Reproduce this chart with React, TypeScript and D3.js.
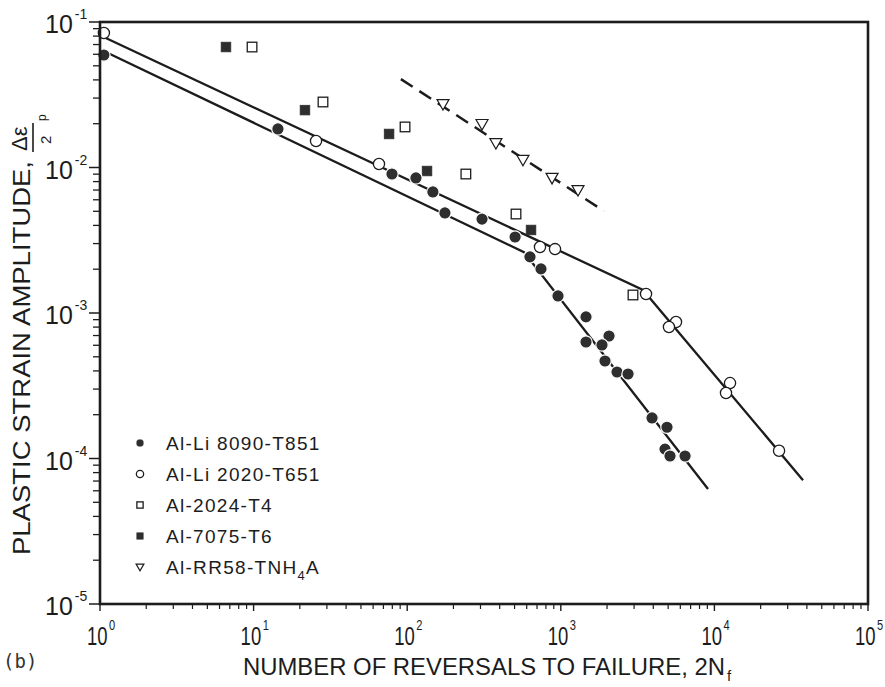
import React from "react";
import * as d3 from "d3";

// reversals 2Nf vs plastic strain amplitude
const alLi8090: [number, number][] = [
  [1.06, 0.0593], [14.4, 0.0184], [79.6, 0.00902], [114, 0.00848], [147, 0.00679],
  [176, 0.00487], [307, 0.00442], [504, 0.00333], [630, 0.00243], [743, 0.00201],
  [959, 0.00131], [1459, 0.00094], [1459, 0.000632], [2060, 0.000695], [1854, 0.000603],
  [1940, 0.000468], [2323, 0.000393], [2740, 0.000381], [3926, 0.00019], [4913, 0.000164],
  [4768, 0.000116], [5140, 0.000104], [6440, 0.000104],
];
const alLi2020: [number, number][] = [
  [1.06, 0.084], [25.5, 0.0152], [65.5, 0.01057], [732, 0.00284], [917, 0.00275],
  [3588, 0.00135], [5623, 0.000867], [5060, 0.000801], [12640, 0.00033], [11900, 0.000282],
  [26360, 0.000113],
];
const al2024: [number, number][] = [
  [9.77, 0.0673], [28.3, 0.0282], [96.8, 0.019], [241, 0.00902], [511, 0.00479], [2951, 0.00133],
];
const al7075: [number, number][] = [
  [6.61, 0.0673], [21.6, 0.0248], [76.2, 0.017], [134.6, 0.00946], [640, 0.00372],
];
const alRR58: [number, number][] = [
  [171, 0.0273], [307, 0.0199], [378, 0.0147], [567, 0.0113], [877, 0.00848], [1294, 0.007],
];

// fitted lines (bilinear for the Al-Li alloys)
const fit8090: [number, number][] = [[1.09, 0.0622], [576, 0.00262], [9085, 6.17e-5]];
const fit2020: [number, number][] = [[1.09, 0.0777], [3428, 0.00144], [37750, 7.1e-5]];
const fitRR58: [number, number][] = [[91, 0.0405], [1910, 0.00502]];

const xTicks = [1, 10, 100, 1000, 10000, 100000];
const xTickExp = ["0", "1", "2", "3", "4", "5"];
const yTicks = [1e-1, 1e-2, 1e-3, 1e-4, 1e-5];
const yTickExp = ["-1", "-2", "-3", "-4", "-5"];
const legendLabels = ["Al-Li 8090-T851", "Al-Li 2020-T651", "Al-2024-T4", "Al-7075-T6", "Al-RR58-TNH"];

const W = 885;
const H = 687;
const m = { left: 100, right: 868, top: 22, bottom: 604 };
const ink = "#1c1c1c";
const sans = "'Liberation Sans', Arial, sans-serif";

function minors(lo: number, hi: number) {
  const out: number[] = [];
  for (let e = lo; e < hi; e++) for (let k = 2; k <= 9; k++) out.push(k * 10 ** e);
  return out;
}

type Kind = "fcircle" | "ocircle" | "osquare" | "fsquare" | "tri";

function Marker({ kind, cx, cy, s = 1 }: { kind: Kind; cx: number; cy: number; s?: number }) {
  if (kind === "fcircle")
    return <circle cx={cx} cy={cy} r={6.2 * s} fill="#2e2e2e" stroke="#fff" strokeWidth={1.2 * s} />;
  if (kind === "ocircle")
    return <circle cx={cx} cy={cy} r={5.6 * s} fill="#fff" stroke={ink} strokeWidth={1.3} />;
  if (kind === "osquare") {
    const h = 4.8 * s;
    return <rect x={cx - h} y={cy - h} width={2 * h} height={2 * h} fill="#fff" stroke={ink} strokeWidth={1.3} />;
  }
  if (kind === "fsquare") {
    const h = 4.8 * s;
    return <rect x={cx - h} y={cy - h} width={2 * h} height={2 * h} fill="#2e2e2e" stroke="#2e2e2e" strokeWidth={0.8} />;
  }
  const w = 6 * s;
  const d = `M${cx - w},${cy - 4.5 * s}L${cx + w},${cy - 4.5 * s}L${cx},${cy + 6 * s}Z`;
  return <path d={d} fill="#fff" stroke={ink} strokeWidth={1.2} />;
}

export default function App() {
  const x = d3.scaleLog().domain([1, 1e5]).range([m.left, m.right]);
  const y = d3.scaleLog().domain([1e-5, 1e-1]).range([m.bottom, m.top]);
  const line = d3
    .line<[number, number]>()
    .x((d) => x(d[0]))
    .y((d) => y(d[1]));

  const series: { data: [number, number][]; kind: Kind }[] = [
    { data: al2024, kind: "osquare" },
    { data: al7075, kind: "fsquare" },
    { data: alRR58, kind: "tri" },
    { data: alLi2020, kind: "ocircle" },
    { data: alLi8090, kind: "fcircle" },
  ];
  const legendKinds: Kind[] = ["fcircle", "ocircle", "osquare", "fsquare", "tri"];

  return (
    <svg
      width={W}
      height={H}
      viewBox={`0 0 ${W} ${H}`}
      style={{ position: "absolute", left: 0, top: 0, background: "#fff" }}
    >
      <rect width={W} height={H} fill="#fff" />

      {/* fit lines */}
      <path d={line(fit8090) || ""} fill="none" stroke={ink} strokeWidth={2.3} />
      <path d={line(fit2020) || ""} fill="none" stroke={ink} strokeWidth={2.3} />
      <path d={line(fitRR58) || ""} fill="none" stroke={ink} strokeWidth={2.5} strokeDasharray="14 8" />

      {/* data */}
      {series.map((s, i) => (
        <g key={i}>
          {s.data.map((d, j) => (
            <Marker key={j} kind={s.kind} cx={x(d[0])} cy={y(d[1])} />
          ))}
        </g>
      ))}

      {/* frame */}
      <rect
        x={m.left}
        y={m.top}
        width={m.right - m.left}
        height={m.bottom - m.top}
        fill="none"
        stroke={ink}
        strokeWidth={2.6}
      />

      {/* y ticks */}
      {minors(-5, -1).map((v, i) => (
        <line key={"ym" + i} x1={m.left - 7} x2={m.left} y1={y(v)} y2={y(v)} stroke={ink} strokeWidth={1.3} />
      ))}
      {yTicks.map((v, i) => (
        <g key={"y" + i}>
          <line x1={m.left - 11} x2={m.left} y1={y(v)} y2={y(v)} stroke={ink} strokeWidth={1.5} />
          <text x={45} y={y(v) + 11} fontFamily={sans} fontSize={25} fill={ink}>
            10
            <tspan fontSize={14} dx={2} dy={-14}>{yTickExp[i]}</tspan>
          </text>
        </g>
      ))}

      {/* x ticks */}
      {minors(0, 5).map((v, i) => (
        <line key={"xm" + i} x1={x(v)} x2={x(v)} y1={m.bottom} y2={m.bottom + 5} stroke={ink} strokeWidth={1.2} />
      ))}
      {xTicks.map((v, i) => (
        <g key={"x" + i}>
          <line x1={x(v)} x2={x(v)} y1={m.bottom} y2={m.bottom + 7} stroke={ink} strokeWidth={1.4} />
          <g transform={`translate(${x(v) - 13},645) scale(0.74,1)`}>
            <text x={0} y={0} fontFamily={sans} fontSize={25} fill={ink}>
              10
              <tspan fontSize={15} dx={2} dy={-15}>{xTickExp[i]}</tspan>
            </text>
          </g>
        </g>
      ))}

      {/* x title */}
      <text x={243} y={675} fontFamily={sans} fontSize={23} fill={ink} textLength={482} lengthAdjust="spacingAndGlyphs">
        NUMBER OF REVERSALS TO FAILURE, 2N
      </text>
      <text x={727} y={681} fontFamily={sans} fontSize={15} fill={ink}>
        f
      </text>
      <text x={3} y={668} fontFamily="'DejaVu Sans Mono', monospace" fontSize={19} fill="#333">
        (b)
      </text>

      {/* y title */}
      <g transform="translate(30,555) rotate(-90)">
        <text x={0} y={0} fontFamily={sans} fontSize={23} fill={ink} textLength={394} lengthAdjust="spacingAndGlyphs">
          PLASTIC STRAIN AMPLITUDE,
        </text>
        <text x={404} y={-3} fontFamily={sans} fontSize={22} fill={ink}>
          Δε
        </text>
        <line x1={403} x2={432} y1={3} y2={3} stroke={ink} strokeWidth={1.6} />
        <text x={411} y={21} fontFamily={sans} fontSize={15} fill={ink}>
          2
        </text>
        <text x={434} y={16} fontFamily={sans} fontSize={12} fill={ink}>
          p
        </text>
      </g>

      {/* legend */}
      {legendLabels.map((lab, i) => {
        const ly = 443 + i * 31;
        return (
          <g key={"lg" + i}>
            <Marker kind={legendKinds[i]} cx={140} cy={ly} s={0.65} />
            <text x={166} y={ly + 7} fontFamily={sans} fontSize={19} letterSpacing={1.3} fill={ink}>
              {lab}
              {i === 4 ? (
                <>
                  <tspan fontSize={13} dy={6}>4</tspan>
                  <tspan dy={-6}>A</tspan>
                </>
              ) : null}
            </text>
          </g>
        );
      })}
    </svg>
  );
}
